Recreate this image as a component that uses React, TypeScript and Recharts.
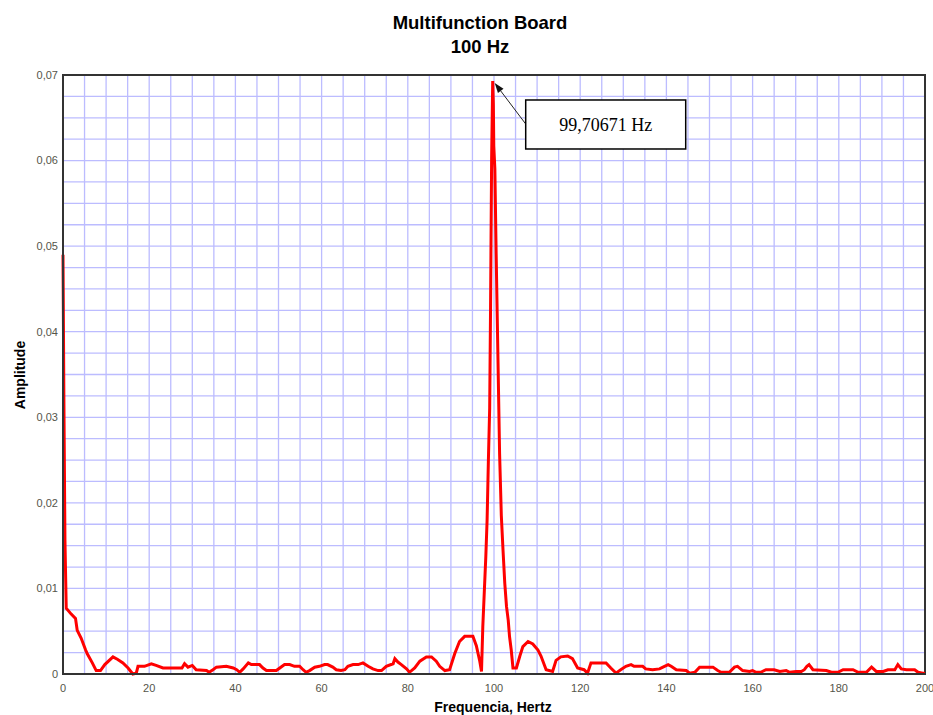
import { LineChart, Line, XAxis, YAxis, CartesianGrid, ReferenceArea, ReferenceDot } from "recharts";

// spectrum (Hz, amplitude)
const FREQS = [
  0, 0.2, 0.45, 0.75, 1.9, 2.9, 3.3, 4.2, 5.25, 5.6, 6.8, 7.7, 8.7, 9.7, 11.6, 12.7, 13.9, 15.1, 16.2, 17.0,
  17.4, 18.9, 20.5, 21.6, 23.2, 27.6, 28.2, 29.0, 30.0, 30.9, 33.3, 33.9, 34.8, 35.6, 37.9, 39.5, 40.3, 41.0,
  41.8, 43.0, 43.7, 45.6, 46.4, 47.2, 49.5, 50.3, 51.4, 52.6, 53.7, 54.9, 55.7, 56.4, 57.2, 58.4, 59.5, 60.7,
  61.4, 62.6, 63.4, 64.5, 65.4, 66.1, 67.3, 68.5, 69.6, 70.8, 71.9, 73.1, 73.9, 75.0, 76.6, 77.0, 77.7, 78.5,
  79.7, 80.4, 81.6, 82.8, 84.3, 85.5, 86.6, 87.4, 88.6, 89.7, 90.9, 92.0, 93.2, 95.1, 95.9, 96.7, 97.1, 97.4,
  97.8, 98.1, 98.4, 98.7, 99.0, 99.2, 99.45, 99.7, 99.85, 99.95, 100.2, 100.5, 100.9, 101.3, 101.7, 102.1,
  102.5, 102.9, 103.3, 103.6, 104.0, 104.4, 105.2, 106.0, 106.7, 107.9, 109.0, 110.2, 110.9, 112.1, 113.6,
  114.4, 115.5, 117.1, 118.2, 119.4, 120.9, 121.7, 122.5, 123.6, 126.0, 127.1, 128.3, 129.4, 130.6, 131.8,
  132.5, 134.5, 135.2, 136.8, 138.4, 139.2, 140.4, 141.1, 142.3, 144.6, 145.4, 146.6, 147.7, 149.6, 150.8,
  151.9, 152.7, 154.6, 155.8, 156.5, 157.7, 159.3, 160.0, 160.8, 161.9, 163.1, 165.0, 166.3, 167.8, 168.6,
  170.1, 171.3, 172.0, 172.6, 173.1, 174.0, 177.1, 178.3, 179.8, 181.0, 183.3, 184.5, 186.4, 187.6, 188.7,
  190.3, 191.4, 193.0, 193.7, 194.5, 195.7, 197.6, 198.4, 199.5, 200,
];
const AMPS = [
  0.049, 0.0326, 0.0157, 0.0077, 0.007, 0.0065, 0.0051, 0.0042, 0.0028, 0.0024, 0.0013, 0.0004, 0.0004, 0.0011,
  0.002, 0.0017, 0.0013, 0.0007, 0.0, 0.0001, 0.0009, 0.0009, 0.0012, 0.001, 0.0007, 0.0007, 0.0012, 0.0008,
  0.001, 0.0005, 0.0004, 0.0002, 0.0005, 0.0008, 0.0009, 0.0007, 0.0005, 0.0002, 0.0006, 0.0013, 0.0011, 0.0011,
  0.0007, 0.0004, 0.0004, 0.0007, 0.0011, 0.0011, 0.0009, 0.0009, 0.0005, 0.0002, 0.0004, 0.0008, 0.0009, 0.0011,
  0.0011, 0.0008, 0.0005, 0.0004, 0.0005, 0.0009, 0.0011, 0.0011, 0.0013, 0.0009, 0.0006, 0.0004, 0.0004, 0.0009,
  0.0012, 0.0018, 0.0014, 0.0011, 0.0006, 0.0002, 0.0007, 0.0015, 0.002, 0.002, 0.0015, 0.0009, 0.0004, 0.0005,
  0.0024, 0.0038, 0.0044, 0.0044, 0.0033, 0.0015, 0.0003, 0.0055, 0.0102, 0.0137, 0.018, 0.025, 0.0311, 0.0428,
  0.0603, 0.0693, 0.0666, 0.0617, 0.059, 0.0491, 0.0374, 0.0257, 0.0185, 0.0144, 0.0106, 0.0079, 0.0063, 0.0044,
  0.0028, 0.0007, 0.0007, 0.0021, 0.0032, 0.0038, 0.0035, 0.0028, 0.0021, 0.0005, 0.0003, 0.0016, 0.002, 0.0021,
  0.0018, 0.0007, 0.0005, 0.0001, 0.0013, 0.0013, 0.0013, 0.0007, 0.0001, 0.0005, 0.0009, 0.0011, 0.0009, 0.0009,
  0.0006, 0.0005, 0.0006, 0.0008, 0.0011, 0.0009, 0.0005, 0.0004, 0.0001, 0.0002, 0.0008, 0.0008, 0.0008, 0.0004,
  0.0002, 0.0002, 0.0008, 0.0009, 0.0004, 0.0003, 0.0004, 0.0002, 0.0002, 0.0005, 0.0005, 0.0003, 0.0004, 0.0002,
  0.0003, 0.0003, 0.0005, 0.0009, 0.0011, 0.0005, 0.0004, 0.0002, 0.0002, 0.0005, 0.0005, 0.0002, 0.0002, 0.0008,
  0.0003, 0.0003, 0.0005, 0.0005, 0.0011, 0.0006, 0.0005, 0.0005, 0.0002, 0.0001, 0.0001,
];

const X_TICKS = Array.from({ length: 41 }, (_, i) => i * 5);
const Y_TICKS = Array.from({ length: 29 }, (_, i) => +(i * 0.0025).toFixed(4));

const PEAK_FREQ = 99.7;
const PEAK_AMP = 0.0693;
const PEAK_LABEL = "99,70671 Hz";

const TITLE = "Multifunction Board";
const SUBTITLE = "100 Hz";
const X_LABEL = "Frequencia, Hertz";
const Y_LABEL = "Amplitude";

const data = FREQS.map((f, i) => ({ f, a: AMPS[i] }));

const font = "'Liberation Sans', Arial, sans-serif";
const tickStyle = { fontSize: 11, fill: "#55554a", fontFamily: font };

const fmtX = (v: number) => (v % 20 === 0 ? String(v) : "");
const fmtY = (v: number) => {
  if (Math.abs(v * 100 - Math.round(v * 100)) > 1e-6) return "";
  return v === 0 ? "0" : v.toFixed(2).replace(".", ",");
};

// callout box + arrow pointing at the peak
const Callout = ({ cx, cy }: { cx?: number; cy?: number }) => {
  if (cx == null || cy == null) return null;
  const sx = cx + 33;
  const sy = cy + 43;
  const ex = cx + 2;
  const ey = cy + 2;
  const dx = ex - sx;
  const dy = ey - sy;
  const len = Math.sqrt(dx * dx + dy * dy);
  const ux = dx / len;
  const uy = dy / len;
  const bx = ex - ux * 10;
  const by = ey - uy * 10;
  const head = `${ex},${ey} ${bx - uy * 3.5},${by + ux * 3.5} ${bx + uy * 3.5},${by - ux * 3.5}`;
  return (
    <g>
      <line x1={sx} y1={sy} x2={bx} y2={by} stroke="#222" strokeWidth={1} />
      <polygon points={head} fill="#111" />
      <rect x={cx + 33} y={cy + 19} width={160} height={49} fill="#fff" stroke="#000" strokeWidth={1.5} />
      <text
        x={cx + 113}
        y={cy + 50}
        textAnchor="middle"
        fontFamily="'Liberation Serif', 'Times New Roman', serif"
        fontSize={18}
        fill="#000"
      >
        {PEAK_LABEL}
      </text>
    </g>
  );
};

export default function App() {
  return (
    <div style={{ position: "absolute", left: 0, top: 0, width: 933, height: 715, background: "#fff" }}>
      <LineChart width={933} height={715} data={data} margin={{ top: 75, right: 8, left: 8, bottom: 16 }}>
        <CartesianGrid stroke="#bcbcff" strokeWidth={1.3} />
        <XAxis
          dataKey="f"
          type="number"
          domain={[0, 200]}
          ticks={X_TICKS}
          interval={0}
          tickFormatter={fmtX}
          tickLine={false}
          tickSize={0}
          tickMargin={10}
          height={25}
          axisLine={{ stroke: "#333", strokeWidth: 2 }}
          tick={tickStyle}
        />
        <YAxis
          type="number"
          domain={[0, 0.07]}
          ticks={Y_TICKS}
          interval={0}
          tickFormatter={fmtY}
          tickLine={false}
          tickSize={0}
          tickMargin={5}
          width={55}
          axisLine={{ stroke: "#333", strokeWidth: 2 }}
          tick={tickStyle}
        />
        <Line
          type="linear"
          dataKey="a"
          stroke="#ff0000"
          strokeWidth={3}
          dot={false}
          isAnimationActive={false}
        />
        <ReferenceArea x1={0} x2={200} y1={0} y2={0.07} fill="none" stroke="#333" strokeWidth={2} />
        <ReferenceDot x={PEAK_FREQ} y={PEAK_AMP} r={0} ifOverflow="visible" shape={Callout} />
      </LineChart>
      <div
        style={{
          position: "absolute",
          left: 280,
          width: 400,
          top: 11,
          textAlign: "center",
          fontFamily: font,
          fontWeight: "bold",
          fontSize: 18.5,
          lineHeight: "24px",
          color: "#000",
        }}
      >
        <div>{TITLE}</div>
        <div>{SUBTITLE}</div>
      </div>
      <div
        style={{
          position: "absolute",
          left: 393,
          width: 200,
          top: 699,
          textAlign: "center",
          fontFamily: font,
          fontWeight: "bold",
          fontSize: 14,
          lineHeight: "16px",
        }}
      >
        {X_LABEL}
      </div>
      <div
        style={{
          position: "absolute",
          left: -80,
          width: 200,
          top: 367,
          textAlign: "center",
          fontFamily: font,
          fontWeight: "bold",
          fontSize: 14,
          lineHeight: "16px",
          transform: "rotate(-90deg)",
        }}
      >
        {Y_LABEL}
      </div>
    </div>
  );
}
